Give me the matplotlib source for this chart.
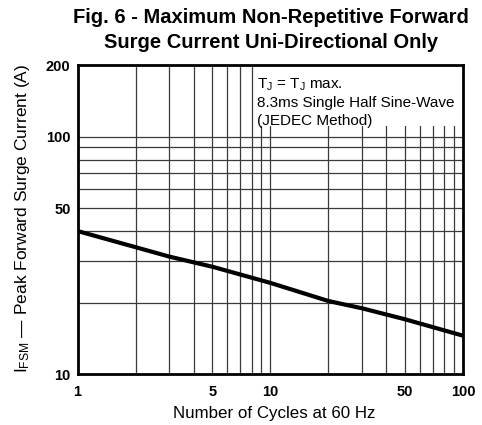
import matplotlib
matplotlib.use("Agg")
import matplotlib.pyplot as plt
from matplotlib.patches import Rectangle
from matplotlib.ticker import FixedLocator, NullFormatter, FixedFormatter

plt.rcParams['font.family'] = ['Liberation Sans', 'DejaVu Sans']
plt.rcParams['mathtext.fontset'] = 'custom'
plt.rcParams['mathtext.rm'] = 'Liberation Sans'
plt.rcParams['mathtext.it'] = 'Liberation Sans'

# Data
cycles = [1, 2, 3, 5, 10, 20, 30, 50, 100]
current = [40.0, 34.2, 31.2, 28.3, 24.2, 20.3, 18.9, 17.0, 14.5]

x_ticks = [1, 5, 10, 50, 100]
x_ticklabels = ["1", "5", "10", "50", "100"]
y_ticks = [10, 50, 100, 200]
y_ticklabels = ["10", "50", "100", "200"]
x_grid = [2, 3, 4, 5, 6, 7, 8, 9, 10, 20, 30, 40, 50, 60, 70, 80, 90]
y_grid = [20, 30, 40, 50, 60, 70, 80, 90, 100]

title = "Fig. 6 - Maximum Non-Repetitive Forward\nSurge Current Uni-Directional Only"
xlabel = "Number of Cycles at 60 Hz"
ylabel = r"I$_{\rm FSM}$ — Peak Forward Surge Current (A)"
note = "T$_{\\rm J}$ = T$_{\\rm J}$ max.\n8.3ms Single Half Sine-Wave\n(JEDEC Method)"

fig = plt.figure(figsize=(4.82, 4.25), dpi=100)
ax = fig.add_axes([0.1608, 0.12, 0.7998, 0.727])
ax.set_xscale('log')
ax.set_yscale('log')
ax.set_xlim(1, 100)
ax.set_ylim(10, 200)

# grid
gc = '#3a3a3a'
for xv in x_grid:
    ax.axvline(xv, color=gc, lw=0.9, zorder=1)
for yv in y_grid:
    ax.axhline(yv, color=gc, lw=0.9, zorder=1)

# white box behind note
ax.add_patch(Rectangle((0.463, 0.8026), 0.537, 0.1974, transform=ax.transAxes,
                       facecolor='white', edgecolor='none', zorder=2))

ax.plot(cycles, current, color='black', lw=3, solid_capstyle='butt', zorder=3)

ax.text(0.466, 0.962, note, transform=ax.transAxes, ha='left', va='top',
        fontsize=11, linespacing=1.3, zorder=4)

ax.xaxis.set_major_locator(FixedLocator(x_ticks))
ax.xaxis.set_major_formatter(FixedFormatter(x_ticklabels))
ax.xaxis.set_minor_locator(FixedLocator([]))
ax.xaxis.set_minor_formatter(NullFormatter())
ax.yaxis.set_major_locator(FixedLocator(y_ticks))
ax.yaxis.set_major_formatter(FixedFormatter(y_ticklabels))
ax.yaxis.set_minor_locator(FixedLocator([]))
ax.yaxis.set_minor_formatter(NullFormatter())
ax.tick_params(axis='both', length=0, labelsize=10.5)
ax.tick_params(axis='x', pad=8)
ax.tick_params(axis='y', pad=5)
for lab in ax.get_xticklabels() + ax.get_yticklabels():
    lab.set_fontweight('bold')

for s in ax.spines.values():
    s.set_linewidth(2)
    s.set_color('black')
    s.set_zorder(5)

ax.set_xlabel(xlabel, fontsize=12.2)
ax.xaxis.set_label_coords(0.51, -0.105)
ax.set_ylabel(ylabel, fontsize=12.5)
ax.yaxis.set_label_coords(-0.118, 0.505)

fig.text(0.562, 0.982, title, ha='center', va='top', fontsize=14.5,
         fontweight='bold', linespacing=1.45)

fig.savefig('out.png', dpi=100)
